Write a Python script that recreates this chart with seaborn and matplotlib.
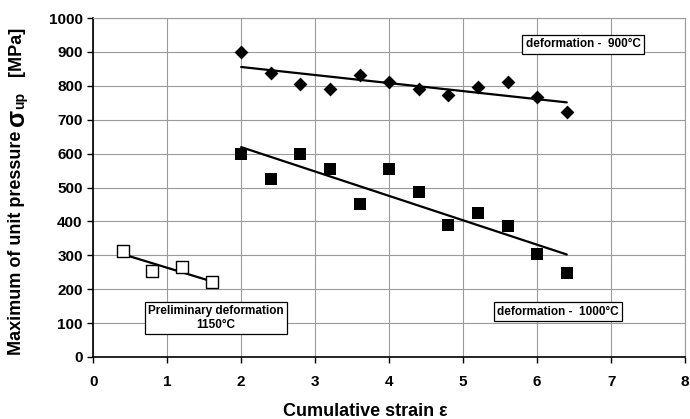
import numpy as np
import pandas as pd
import matplotlib
matplotlib.use("Agg")
import matplotlib.pyplot as plt
import seaborn as sns

# cumulative strain for each series
strain_900 = [2.0, 2.4, 2.8, 3.2, 3.6, 4.0, 4.4, 4.8, 5.2, 5.6, 6.0, 6.4]
pressure_900 = [900, 838, 806, 790, 832, 812, 792, 772, 796, 812, 768, 722]

strain_1000 = [2.0, 2.4, 2.8, 3.2, 3.6, 4.0, 4.4, 4.8, 5.2, 5.6, 6.0, 6.4]
pressure_1000 = [600, 526, 600, 554, 451, 554, 488, 390, 426, 386, 305, 249]

strain_1150 = [0.4, 0.8, 1.2, 1.6]
pressure_1150 = [313, 254, 266, 220]

x_ticks = [0, 1, 2, 3, 4, 5, 6, 7, 8]
y_ticks = [0, 100, 200, 300, 400, 500, 600, 700, 800, 900, 1000]

sns.set_style("ticks")
plt.rcParams['font.family'] = ['Liberation Sans', 'DejaVu Sans']
plt.rcParams['font.weight'] = 'bold'
plt.rcParams['text.color'] = 'black'

df_900 = pd.DataFrame({'strain': strain_900, 'pressure': pressure_900})
df_1000 = pd.DataFrame({'strain': strain_1000, 'pressure': pressure_1000})
df_1150 = pd.DataFrame({'strain': strain_1150, 'pressure': pressure_1150})

fig = plt.figure(figsize=(6.9, 4.19), dpi=100)
ax = fig.add_axes([0.135, 0.148, 0.858, 0.809])

line_kws = {'color': 'black', 'lw': 1.6, 'zorder': 3}

sns.regplot(data=df_900, x='strain', y='pressure', ax=ax, ci=None, marker='D',
            scatter_kws={'s': 50, 'color': 'black', 'alpha': 1, 'zorder': 4, 'linewidths': 0},
            line_kws=line_kws)
sns.regplot(data=df_1000, x='strain', y='pressure', ax=ax, ci=None, marker='s',
            scatter_kws={'s': 75, 'color': 'black', 'alpha': 1, 'zorder': 4, 'linewidths': 0},
            line_kws=line_kws)
sns.regplot(data=df_1150, x='strain', y='pressure', ax=ax, ci=None, marker='s',
            scatter_kws={'s': 70, 'facecolors': 'white', 'edgecolors': 'black', 'alpha': 1,
                         'linewidths': 1.0, 'zorder': 4},
            line_kws=line_kws)

ax.set_xlim(0, 8)
ax.set_ylim(0, 1000)
ax.set_xticks(x_ticks)
ax.set_yticks(y_ticks)
ax.tick_params(labelsize=11, direction='out', length=4, width=1, color='black',
               labelcolor='black')
ax.tick_params(axis='x', pad=9)
for lab in ax.get_xticklabels() + ax.get_yticklabels():
    lab.set_fontweight('bold')
ax.grid(True, color='#9a9a9a', lw=0.8)
ax.set_axisbelow(True)
for s in ['top', 'right']:
    ax.spines[s].set_color('#9a9a9a')
    ax.spines[s].set_linewidth(0.8)
for s in ['left', 'bottom']:
    ax.spines[s].set_color('black')
    ax.spines[s].set_linewidth(1.2)
ax.set_xlabel('')
ax.set_ylabel('')

# x label
fig.text(365 / 690, 1 - 416 / 419, 'Cumulative strain ε', fontsize=13, fontweight='bold',
         ha='center', va='baseline')

# y label built from pieces so sigma can be bigger
fig.canvas.draw()
renderer = fig.canvas.get_renderer()
H = fig.bbox.height
xc = 17 / 690
pieces = [('Maximum of unit pressure ', 13, 0.0),
          ('σ', 18, 0.0),
          ('up', 10, 3.0),
          ('   [MPa]', 13, 0.0)]
ypix = 419 - 355
for txt, size, dx in pieces:
    t = fig.text(xc + dx / 690, ypix / H, txt, fontsize=size, fontweight='bold',
                 rotation=90, ha='center', va='bottom')
    bb = t.get_window_extent(renderer)
    ypix = bb.y1

box = dict(boxstyle='square,pad=0.3', facecolor='white', edgecolor='black', lw=0.9)
ax.text(6.62, 922, 'deformation -  900°C', fontsize=8.5, fontweight='bold',
        ha='center', va='center', bbox=box, zorder=5)
ax.text(6.28, 133, 'deformation -  1000°C', fontsize=8.5, fontweight='bold',
        ha='center', va='center', bbox=box, zorder=5)
ax.text(1.66, 115, 'Preliminary deformation\n1150°C', fontsize=8.5, fontweight='bold',
        ha='center', va='center', bbox=box, zorder=5, linespacing=1.2)

fig.savefig('out.png', dpi=100)
